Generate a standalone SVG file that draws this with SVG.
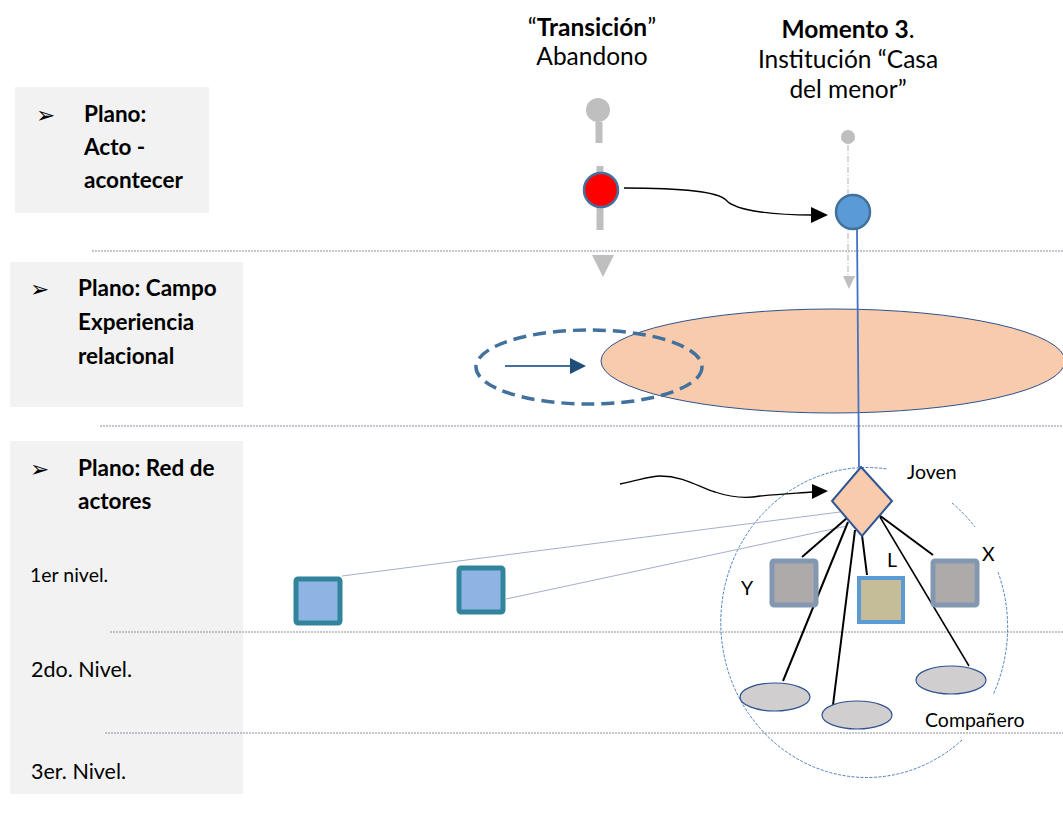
<svg xmlns="http://www.w3.org/2000/svg" width="1063" height="816" viewBox="0 0 1063 816">
<style>
.box{fill:#F2F2F2}
.sep{stroke:#8C8C9C;stroke-width:1;stroke-dasharray:2 1;fill:none}
.tb{font-family:Lato,"Liberation Sans",sans-serif;font-weight:bold;font-size:22.5px;fill:#000}
.t{font-family:Lato,"Liberation Sans",sans-serif;font-size:24.5px;fill:#000}
.tm{font-family:Lato,"Liberation Sans",sans-serif;font-size:21.5px;fill:#000}
.ts{font-family:Lato,"Liberation Sans",sans-serif;font-size:19.5px;fill:#000}
.bul{font-family:"DejaVu Sans",sans-serif;font-size:23px;fill:#000}
.blk{stroke:#000;stroke-width:2;fill:none}
.lav{stroke:#A2AECB;stroke-width:1;fill:none}
.sqg{fill:#AEAAAA;stroke:#8497B0;stroke-width:5}
.sqb{fill:#8EB4E3;stroke:#31849B;stroke-width:5}
.ell{fill:#D0CECE;stroke:#2F528F;stroke-width:1.2}
.circ{fill:none;stroke:#4F7FC0;stroke-width:1;stroke-dasharray:3 1.5}
</style>
<rect width="1063" height="816" fill="#fff"/>
<g id="plane-acto">
<rect class="box" x="15" y="87" width="194" height="126"/>
<text class="bul" x="36" y="123">➢</text>
<text class="tb" x="84" y="122">Plano:</text>
<text class="tb" x="84" y="155">Acto -</text>
<text class="tb" x="84" y="188">acontecer</text>
</g>
<g id="plane-campo">
<rect class="box" x="10" y="262" width="233" height="145"/>
<text class="bul" x="30" y="297">➢</text>
<text class="tb" x="78" y="296">Plano: Campo</text>
<text class="tb" x="78" y="330">Experiencia</text>
<text class="tb" x="78" y="364">relacional</text>
</g>
<g id="plane-red">
<rect class="box" x="10" y="441" width="233" height="353"/>
<text class="bul" x="30" y="477">➢</text>
<text class="tb" x="78" y="476">Plano: Red de</text>
<text class="tb" x="78" y="509">actores</text>
<text class="ts" x="30" y="582">1er nivel.</text>
<text class="tm" x="31" y="677">2do. Nivel.</text>
<text class="tm" x="31" y="779">3er. Nivel.</text>
</g>
<g id="separators">
<line class="sep" x1="92" y1="251" x2="1063" y2="251"/>
<line class="sep" x1="100" y1="426" x2="1063" y2="426"/>
<line class="sep" x1="110" y1="632" x2="1063" y2="632"/>
<line class="sep" x1="105" y1="733" x2="1063" y2="733"/>
</g>
<g id="header-transicion">
<text class="t" x="592" y="36" text-anchor="middle">“<tspan font-weight="bold">Transición</tspan>”</text>
<text class="t" x="592" y="65" text-anchor="middle">Abandono</text>
</g>
<g id="header-momento3">
<text class="t" x="848" y="38" text-anchor="middle"><tspan font-weight="bold">Momento 3</tspan>.</text>
<text class="t" x="848" y="68" text-anchor="middle">Institución “Casa</text>
<text class="t" x="848" y="98" text-anchor="middle">del menor”</text>
</g>
<g id="campo-ellipse">
<ellipse cx="833" cy="361" rx="232" ry="52" fill="#F8CBAD" stroke="#2F528F" stroke-width="1"/>
</g>
<g id="dashed-ellipse">
<ellipse cx="589" cy="367" rx="113" ry="37" fill="none" stroke="#41719C" stroke-width="3.5" stroke-dasharray="13 7"/>
</g>
<g id="group-circle">
<path class="circ" d="M952,503 A146,155 0 0 1 975,527"/>
<path class="circ" d="M998,572 A146,155 0 0 1 993,695"/>
<path class="circ" d="M962,740 A146,155 0 1 1 887,469"/>
</g>
<g id="connectors">
<line x1="599" y1="122" x2="599" y2="143" stroke="#BFBFBF" stroke-width="7"/>
<line x1="600" y1="166" x2="600" y2="230" stroke="#BFBFBF" stroke-width="7"/>
<polygon points="592,255 614,255 603,277" fill="#BFBFBF"/>
<line x1="848" y1="145" x2="848" y2="277" stroke="#BFBFBF" stroke-width="1.2" stroke-dasharray="6 2 1 2"/>
<polygon points="843,276 855,276 849,289" fill="#BFBFBF"/>
<path d="M624,188 C680,188 718,192 726,200 C736,212 780,215 812,215" stroke="#000" stroke-width="1.3" fill="none"/>
<polygon points="811,207 828,215 811,223" fill="#000"/>
<line x1="505" y1="366" x2="572" y2="366" stroke="#41719C" stroke-width="2"/>
<polygon points="570,358 586,366 570,374" fill="#1F4E79"/>
<line x1="857" y1="229" x2="859" y2="467" stroke="#4472C4" stroke-width="1.8"/>
<path d="M620,484 C640,480 650,476 660,476 C685,476 700,488 715,492 C730,497 745,499 760,496 C780,494 800,493 812,492" stroke="#000" stroke-width="1.3" fill="none"/>
<polygon points="812,484 828,491 812,499" fill="#000"/>
<line class="lav" x1="342" y1="576" x2="840" y2="512"/>
<line class="lav" x1="506" y1="599" x2="847" y2="526"/>
<line class="blk" x1="847" y1="518" x2="802" y2="557"/>
<line class="blk" x1="848" y1="522" x2="783" y2="681"/>
<line class="blk" x1="855" y1="530" x2="833" y2="705"/>
<line class="blk" x1="862" y1="535" x2="867" y2="575"/>
<line class="blk" x1="879" y1="515" x2="933" y2="555"/>
<line x1="880" y1="517" x2="969" y2="666" stroke="#000" stroke-width="1.5"/>
</g>
<g id="node-pin-gray"><circle cx="598" cy="110" r="12" fill="#BFBFBF"/></g>
<g id="node-red"><circle cx="601" cy="190" r="17" fill="#FF0000" stroke="#41719C" stroke-width="2.5"/></g>
<g id="node-dot-gray"><circle cx="848" cy="137" r="7" fill="#BFBFBF"/></g>
<g id="node-blue"><circle cx="853" cy="212" r="17" fill="#5B9BD5" stroke="#41719C" stroke-width="2.5"/></g>
<g id="node-sq1"><rect class="sqb" x="296" y="579" width="44" height="44" rx="2"/></g>
<g id="node-sq2"><rect class="sqb" x="459" y="568" width="44" height="44" rx="2"/></g>
<g id="node-Y"><rect class="sqg" x="772" y="561" width="44" height="44" rx="2"/><text class="ts" x="741" y="595">Y</text></g>
<g id="node-L"><rect x="859" y="578" width="44" height="44" fill="#C4BD97" stroke="#5B9BD5" stroke-width="4"/><text class="ts" x="887" y="567">L</text></g>
<g id="node-X"><rect class="sqg" x="933" y="561" width="44" height="44" rx="2"/><text class="ts" x="982" y="561">X</text></g>
<g id="node-e1"><ellipse class="ell" cx="775" cy="697" rx="35" ry="14"/></g>
<g id="node-e2"><ellipse class="ell" cx="857" cy="715" rx="35" ry="14"/></g>
<g id="node-e3"><ellipse class="ell" cx="951" cy="680" rx="35" ry="14"/><text class="ts" x="925" y="727">Compañero</text></g>
<g id="node-joven"><polygon points="861,467 892,501 862,536 832,501" fill="#F8CBAD" stroke="#2F5597" stroke-width="2"/><text class="ts" x="907" y="479">Joven</text></g>
</svg>
